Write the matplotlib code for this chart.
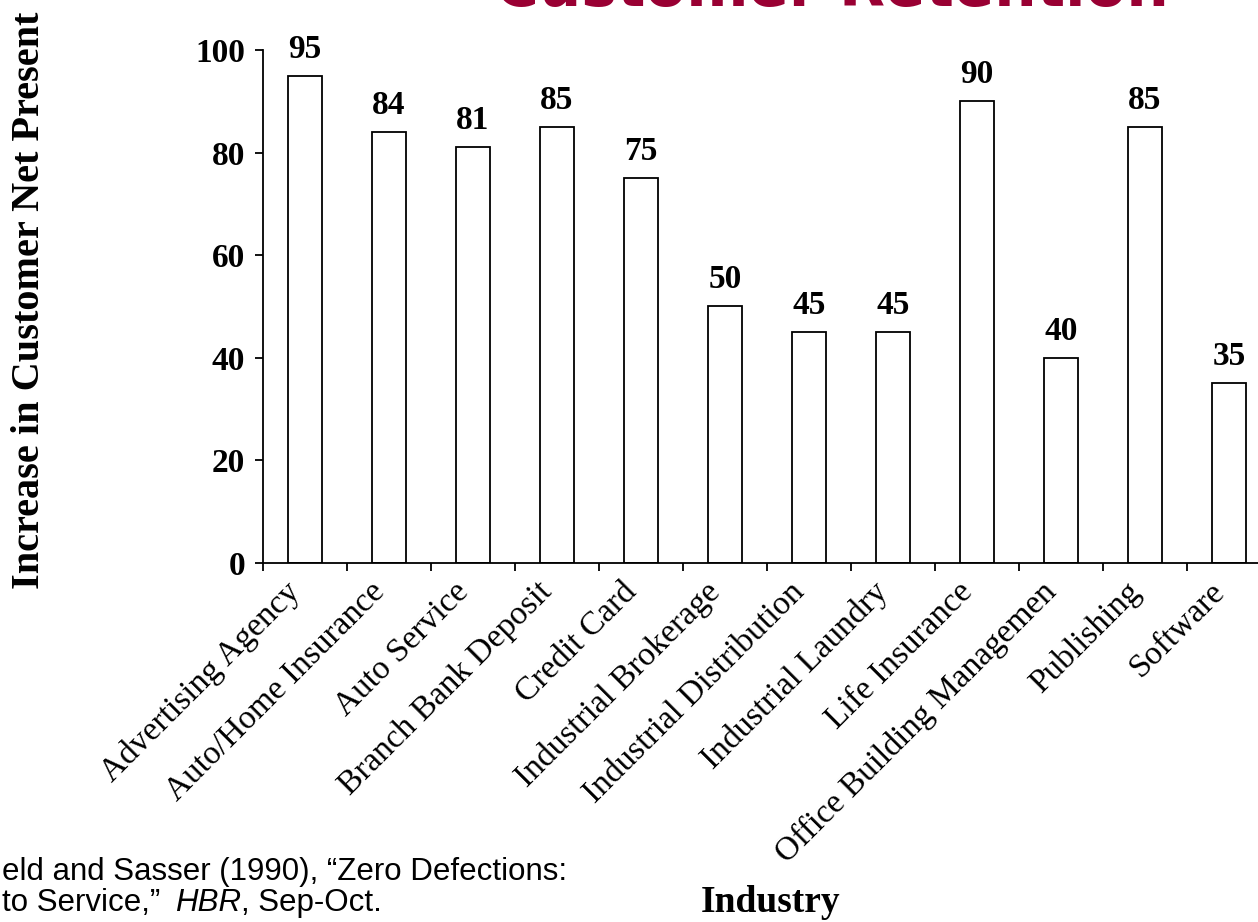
import numpy as np
import matplotlib
matplotlib.use("Agg")
import matplotlib.pyplot as plt
from matplotlib.transforms import ScaledTranslation

industries = ["Advertising Agency", "Auto/Home Insurance", "Auto Service",
              "Branch Bank Deposit", "Credit Card", "Industrial Brokerage",
              "Industrial Distribution", "Industrial Laundry", "Life Insurance",
              "Office Building Managemen", "Publishing", "Software"]
npv_increase = [95, 84, 81, 85, 75, 50, 45, 45, 90, 40, 85, 35]
yticks = [0, 20, 40, 60, 80, 100]

W, H = 1258, 922
SERIF = "Liberation Serif"
MAROON = "#990033"

fig = plt.figure(figsize=(W / 100, H / 100), dpi=100)
# axes runs past the right edge on purpose, last bar sits near the border
ax = fig.add_axes([263 / W, (H - 563) / H, 1008 / W, 513 / H])

x = np.arange(len(industries))
bars = ax.bar(x, npv_increase, width=0.41, color="white", edgecolor="black",
              linewidth=1.3, zorder=2)

for b, v in zip(bars, npv_increase):
    ax.annotate(str(v), (b.get_x() + b.get_width() / 2, v),
                xytext=(0, 8), textcoords="offset points",
                ha="center", va="bottom", fontsize=24, fontweight="bold",
                family=SERIF)

ax.set_xlim(-0.5, len(industries) - 0.5)
ax.set_ylim(0, 100)
ax.set_yticks(yticks)
ax.set_yticklabels([str(t) for t in yticks], fontsize=24, fontweight="bold",
                   family=SERIF)
ax.tick_params(axis="y", direction="out", length=6, width=1.3, pad=7)

ax.set_xticks(x)
ax.set_xticklabels(industries, rotation=45, ha="right", va="top",
                   rotation_mode="anchor", fontsize=24, family=SERIF)
ax.tick_params(axis="x", which="major", length=0, pad=6)
ax.set_xticks(np.arange(-0.5, len(industries), 1), minor=True)
ax.tick_params(axis="x", which="minor", direction="out", length=6, width=1.3)
shift = ScaledTranslation(-20 / 100, -5 / 100, fig.dpi_scale_trans)
for lbl in ax.get_xticklabels():
    lbl.set_transform(lbl.get_transform() + shift)

for side in ("top", "right"):
    ax.spines[side].set_visible(False)
for side in ("left", "bottom"):
    ax.spines[side].set_linewidth(1.3)

fig.text(30 / W, (H - 589) / H, "Increase in Customer Net Present",
         rotation=90, ha="center", va="bottom", fontsize=29,
         fontweight="bold", family=SERIF)
fig.text(771 / W, (H - 912) / H, "Industry", ha="center", va="baseline",
         fontsize=27, fontweight="bold", family=SERIF)

# title sits mostly above the top border, only the feet of the letters show
title = fig.text(832 / W, (H - 6) / H, "Customer Retention", ha="center",
                 va="baseline", fontsize=60, fontweight="bold",
                 family="DejaVu Sans", color=MAROON)
r = fig.canvas.get_renderer()
tw = title.get_window_extent(r).width
title.set_fontsize(60 * 675 / tw)

# source note, two lines with the journal name in italics
fs = 22.5
fig.text(2 / W, (H - 880) / H, "eld and Sasser (1990), \u201cZero Defections:",
         fontsize=fs, family="Liberation Sans", va="baseline")
parts = [("to Service,\u201d ", "normal"), ("HBR", "italic"), (", Sep-Oct.", "normal")]
xpos = 2
for txt, style in parts:
    t = fig.text(xpos / W, (H - 911) / H, txt, fontsize=fs,
                 family="Liberation Sans", style=style, va="baseline")
    xpos = t.get_window_extent(r).x1 + (6 if txt.endswith(" ") else 0)

fig.savefig("out.png", dpi=100)
